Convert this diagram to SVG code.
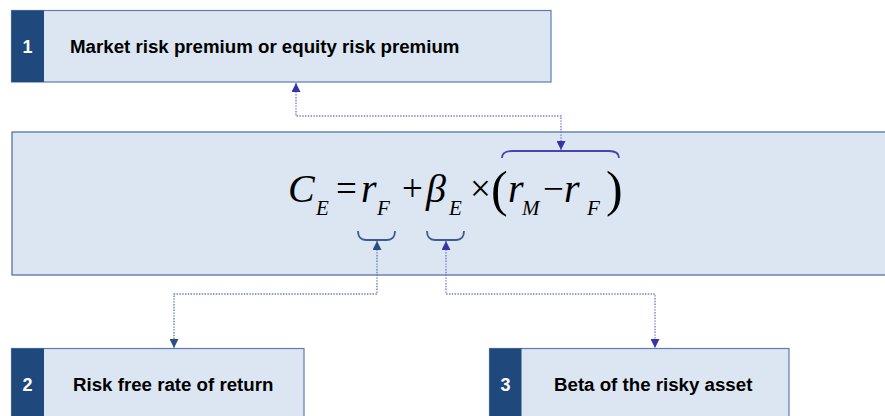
<svg xmlns="http://www.w3.org/2000/svg" width="885" height="416" viewBox="0 0 885 416">
<style>
.box{fill:#dce6f2;stroke:#5b7db0;stroke-width:1.2}
.strip{fill:#1f497d}
.num{font-family:"Liberation Sans",Arial,sans-serif;font-weight:bold;font-size:18px;fill:#ffffff;text-anchor:middle}
.lbl{font-family:"Liberation Sans",Arial,sans-serif;font-weight:bold;font-size:18.7px;fill:#000000}
.m{font-family:"Liberation Serif","Times New Roman",serif;font-style:italic;font-size:40px;fill:#000}
.s{font-family:"Liberation Serif","Times New Roman",serif;font-style:italic;font-size:21px;fill:#000}
.op{font-family:"Liberation Serif","Times New Roman",serif;font-size:37px;fill:#000}
.par{font-family:"Liberation Serif","Times New Roman",serif;font-size:50px;fill:#000}
.conA{fill:none;stroke:#7a7acc;stroke-width:1.4;stroke-dasharray:1.4 1.4}
.conB{fill:none;stroke:#5f7fae;stroke-width:1.4;stroke-dasharray:1.4 1.4}
.brace{fill:none;stroke-width:1.8}
</style>
<defs>
<marker id="arrA" viewBox="0 0 10 10" refX="10" refY="5" markerWidth="9" markerHeight="9" markerUnits="userSpaceOnUse" orient="auto-start-reverse"><path d="M0,0 L10,5 L0,10 Z" fill="#3535a5"/></marker>
<marker id="arrB" viewBox="0 0 10 10" refX="10" refY="5" markerWidth="9" markerHeight="9" markerUnits="userSpaceOnUse" orient="auto-start-reverse"><path d="M0,0 L10,5 L0,10 Z" fill="#2a4f80"/></marker>
</defs>

<g id="node-formula">
<rect class="box" x="12" y="132" width="885" height="143" style="stroke:#4a6a9c"/>
<text class="m" x="288" y="202">C</text>
<text class="s" x="316" y="215">E</text>
<text class="op" x="336" y="201">=</text>
<text class="m" x="361" y="202">r</text>
<text class="s" x="377" y="215">F</text>
<text class="op" x="402" y="201">+</text>
<text class="m" x="426" y="202">β</text>
<text class="s" x="449" y="215">E</text>
<text class="op" x="470" y="201">×</text>
<text class="par" x="491" y="206">(</text>
<text class="m" x="508" y="202">r</text>
<text class="s" x="522" y="215">M</text>
<text class="op" x="543" y="201">−</text>
<text class="m" x="564" y="202">r</text>
<text class="s" x="587" y="215">F</text>
<text class="par" x="606" y="206">)</text>
<path class="brace" stroke="#3d5b8c" d="M358,231 Q358,240 366,240 L387,240 Q395,240 395,231"/>
<path class="brace" stroke="#3d5b8c" d="M427,231 Q427,240 435,240 L456,240 Q464,240 464,231"/>
<path class="brace" stroke="#4545b0" d="M502,158 Q502,151 512,151 L609,151 Q619,151 619,158"/>
</g>

<g id="node-1">
<rect class="box" x="11.5" y="10.5" width="539.5" height="71.5"/>
<rect class="strip" x="11.5" y="10.5" width="32.5" height="71.5"/>
<text class="num" x="27.5" y="52.5">1</text>
<text class="lbl" x="70" y="52.5">Market risk premium or equity risk premium</text>
</g>

<g id="node-2">
<rect class="box" x="11.5" y="348.5" width="292.5" height="80"/>
<rect class="strip" x="11.5" y="348.5" width="32.5" height="80"/>
<text class="num" x="27.5" y="391">2</text>
<text class="lbl" x="73" y="391">Risk free rate of return</text>
</g>

<g id="node-3">
<rect class="box" x="489.5" y="348.5" width="299.5" height="80"/>
<rect class="strip" x="489.5" y="348.5" width="32" height="80"/>
<text class="num" x="505.5" y="391">3</text>
<text class="lbl" x="554" y="391">Beta of the risky asset</text>
</g>

<g id="connectors">
<path class="conA" d="M296,83 L296,116 L561,116 L561,150" marker-start="url(#arrA)" marker-end="url(#arrA)"/>
<path class="conB" d="M377,241 L377,294 L174,294 L174,348" marker-start="url(#arrB)" marker-end="url(#arrB)"/>
<path class="conA" d="M446,241 L446,294 L655,294 L655,348" marker-start="url(#arrA)" marker-end="url(#arrA)"/>
</g>
</svg>
